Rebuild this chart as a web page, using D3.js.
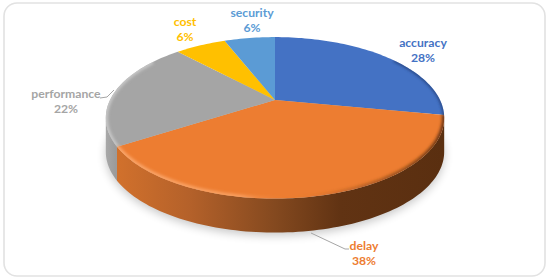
<!DOCTYPE html>
<html lang="en">
<head>
    <meta charset="UTF-8">
    <title>3d pie chart</title>
    <script src="https://d3js.org/d3.v7.min.js"></script>
    <style>
        html, body { margin: 0; background: #fff; }
        svg { display: block; }
        text { font-family: Lato, "Open Sans", sans-serif; font-weight: 700; font-size: 12.2px; }
    </style>
</head>
<body>
    <svg></svg>
    <script>
        const w = 550;
        const h = 280;

        const categories = ['accuracy', 'delay', 'performance', 'cost', 'security'];
        const shares = [28, 38, 22, 6, 6];
        const colors = ['#4472c4', '#ed7d31', '#a5a5a5', '#ffc000', '#5b9bd5'];

        // label centres, layout only
        const labelX = [423, 364, 66, 185, 252];
        const labelY = [47, 250, 98, 26, 17];

        // apex of the pie and the perspective of the tilted disc
        const cx = 275, cy = 100, a = 165, b = 76.8, p = 0.221, depth = 34;

        // angles where the tilted disc has its left and right extremes
        const rightEdge = Math.PI - Math.acos(p);
        const leftEdge = Math.PI + Math.acos(p);

        const project = (angle, r = 1, drop = 0) => {
            const X = Math.sin(angle) * r, Y = -Math.cos(angle) * r;
            const k = 1 - p * Y;
            return [cx + a * X / k, cy + b * Y / k + drop];
        };

        const arcPoints = (from, to, drop = 0) => {
            const n = Math.max(2, Math.ceil(Math.abs(to - from) * 40));
            return d3.range(n + 1).map(i => project(from + (to - from) * i / n, 1, drop));
        };

        const line = d3.line();
        const pie = d3.pie().sort(null)(shares);

        const svg = d3.select('svg').attr('width', w).attr('height', h);
        const defs = svg.append('defs');

        const blur = (id, s) => defs.append('filter').attr('id', id)
            .attr('x', '-20%').attr('y', '-20%').attr('width', '140%').attr('height', '140%')
            .append('feGaussianBlur').attr('stdDeviation', s);
        blur('blur-shadow', 5);
        blur('blur-rim', 1.4);

        const gradient = (id, stops) => {
            const g = defs.append('linearGradient').attr('id', id)
                .attr('gradientUnits', 'userSpaceOnUse')
                .attr('x1', 106).attr('x2', 445).attr('y1', 0).attr('y2', 0);
            stops.forEach(s => g.append('stop')
                .attr('offset', (s[0] - 106) / 339)
                .attr('stop-color', s[1])
                .attr('stop-opacity', s[2] === undefined ? 1 : s[2]));
        };
        gradient('side-orange', [[120, '#d0702c'], [190, '#b4612a'], [275, '#84491f'], [340, '#613313'], [445, '#5a2f10']]);
        gradient('side-gray', [[106, '#a8a8a8'], [125, '#8e8e8e']]);
        gradient('rim-orange', [[120, '#fba66a'], [240, '#f99f60'], [285, '#ed7d31', 0], [340, '#7a4018', 0.25], [440, '#6a3512', 1]]);

        svg.append('rect')
            .attr('x', 4).attr('y', 3).attr('width', 541).attr('height', 273).attr('rx', 13)
            .attr('fill', '#fff').attr('stroke', '#e2e2e2').attr('stroke-width', 1.6);

        // soft shadow under the disc
        svg.append('path')
            .attr('d', line(arcPoints(0, 2 * Math.PI, depth + 3)) + 'Z')
            .attr('fill', '#000').attr('opacity', 0.22)
            .attr('filter', 'url(#blur-shadow)');

        // side wall, only what faces the viewer
        const sideFill = ['url(#side-orange)', 'url(#side-gray)'];
        const sideStart = [rightEdge, pie[1].endAngle];
        const sideEnd = [pie[1].endAngle, leftEdge];
        sideFill.forEach((fill, i) => {
            const pts = arcPoints(sideStart[i], sideEnd[i])
                .concat(arcPoints(sideEnd[i], sideStart[i], depth));
            svg.append('path').attr('d', line(pts) + 'Z').attr('fill', fill);
        });

        // top face
        svg.append('g').selectAll('path')
            .data(pie)
            .enter()
            .append('path')
            .attr('d', d => line([[cx, cy]].concat(arcPoints(d.startAngle, d.endAngle))) + 'Z')
            .attr('fill', (d, i) => colors[i]);

        // bevel on the front rim, kept inside the top face
        const clip = defs.append('clipPath').attr('id', 'top-clip');
        clip.append('path').attr('d', line(arcPoints(0, 2 * Math.PI)) + 'Z');

        const rim = svg.append('g').attr('clip-path', 'url(#top-clip)');
        rim.append('path')
            .attr('d', line(arcPoints(pie[1].startAngle, pie[1].endAngle)))
            .attr('fill', 'none').attr('stroke', 'url(#rim-orange)').attr('stroke-width', 4.5)
            .attr('filter', 'url(#blur-rim)');
        rim.append('path')
            .attr('d', line(arcPoints(pie[2].startAngle, 5.3)))
            .attr('fill', 'none').attr('stroke', '#c9c9c9').attr('stroke-width', 4)
            .attr('filter', 'url(#blur-rim)');
        rim.append('path')
            .attr('d', line(arcPoints(0.95, pie[0].endAngle)))
            .attr('fill', 'none').attr('stroke', '#23407a').attr('stroke-width', 2.5)
            .attr('filter', 'url(#blur-rim)');

        // leader lines
        const leaders = [
            [[100, 98], [107, 97], [114, 90]],
            [[311, 233], [345, 249], [349, 249]]
        ];
        svg.append('g').selectAll('path')
            .data(leaders)
            .enter()
            .append('path')
            .attr('d', d => line(d))
            .attr('fill', 'none').attr('stroke', '#a6a6a6').attr('stroke-width', 1);

        // labels
        const labels = svg.append('g').selectAll('text')
            .data(categories)
            .enter()
            .append('text')
            .attr('text-anchor', 'middle')
            .attr('x', (d, i) => labelX[i])
            .attr('y', (d, i) => labelY[i])
            .attr('fill', (d, i) => colors[i]);
        labels.append('tspan').text(d => d);
        labels.append('tspan')
            .attr('x', (d, i) => labelX[i])
            .attr('dy', 15)
            .text((d, i) => shares[i] + '%');
    </script>
</body>
</html>
